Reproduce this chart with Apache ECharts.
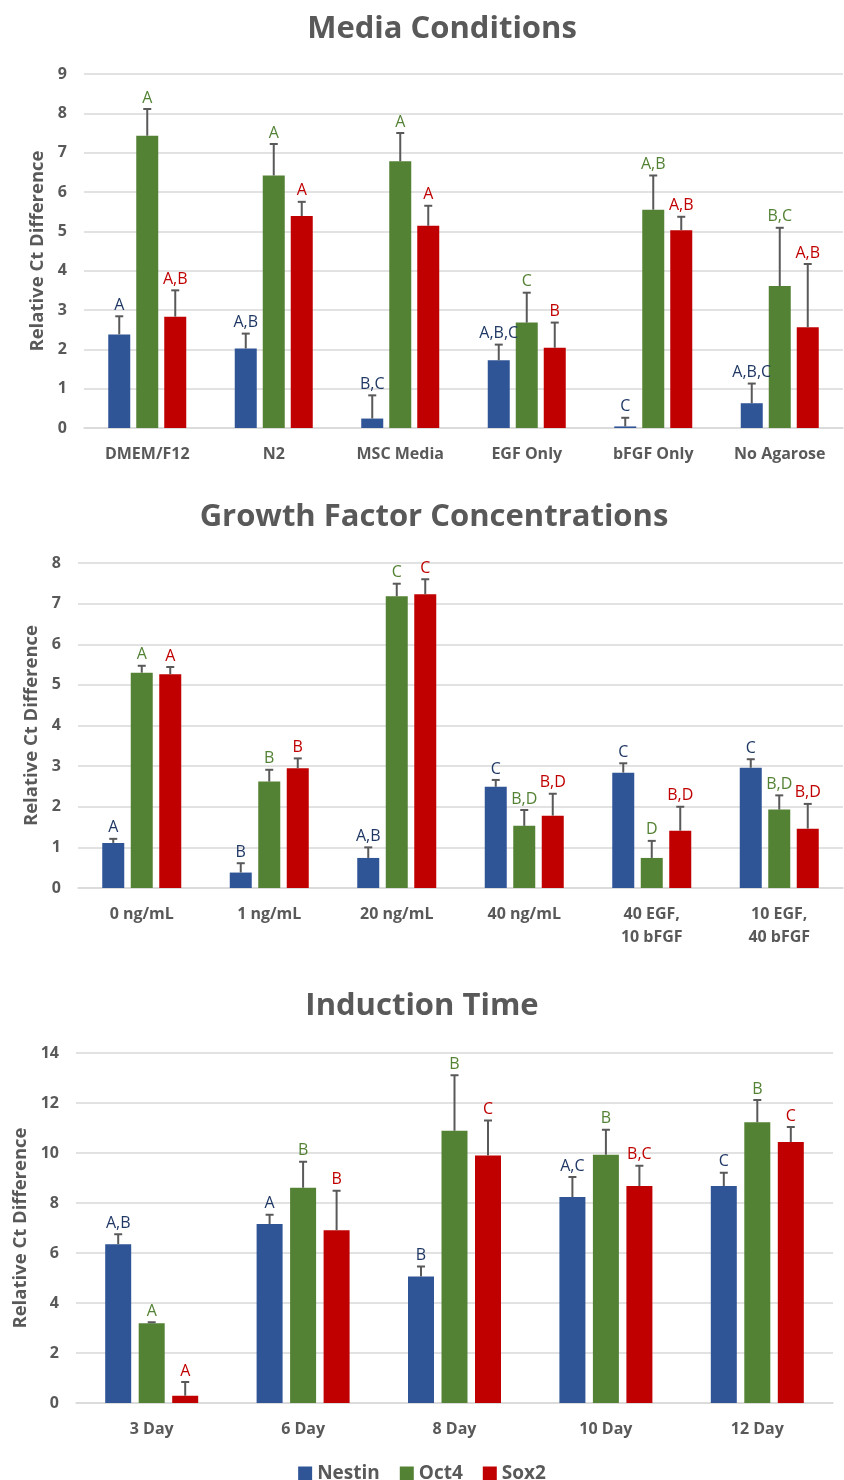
<!DOCTYPE html>
<html>
<head>
<meta charset="utf-8">
<script src="https://cdn.jsdelivr.net/npm/echarts@6/dist/echarts.min.js"></script>
<style>
  html, body { margin: 0; padding: 0; background: #fff; }
  #chart { width: 844px; height: 1480px; }
</style>
</head>
<body>
<div id="chart"></div>
<script>
// ---- Media Conditions ----
const mediaCats = ['DMEM/F12', 'N2', 'MSC Media', 'EGF Only', 'bFGF Only', 'No Agarose'];
const mediaNestin = [2.38, 2.02, 0.24, 1.72, 0.04, 0.63];
const mediaNestinErr = [0.46, 0.38, 0.59, 0.40, 0.22, 0.50];
const mediaOct4 = [7.43, 6.42, 6.78, 2.68, 5.55, 3.61];
const mediaOct4Err = [0.68, 0.80, 0.72, 0.76, 0.87, 1.48];
const mediaSox2 = [2.83, 5.39, 5.14, 2.04, 5.03, 2.56];
const mediaSox2Err = [0.67, 0.36, 0.51, 0.64, 0.34, 1.61];
const mediaNestinSig = ['A', 'A,B', 'B,C', 'A,B,C', 'C', 'A,B,C'];
const mediaOct4Sig = ['A', 'A', 'A', 'C', 'A,B', 'B,C'];
const mediaSox2Sig = ['A,B', 'A', 'A', 'B', 'A,B', 'A,B'];

// ---- Growth Factor Concentrations ----
const gfCats = ['0 ng/mL', '1 ng/mL', '20 ng/mL', '40 ng/mL', '40 EGF,\n10 bFGF', '10 EGF,\n40 bFGF'];
const gfNestin = [1.11, 0.38, 0.74, 2.49, 2.84, 2.96];
const gfNestinErr = [0.10, 0.23, 0.26, 0.17, 0.23, 0.21];
const gfOct4 = [5.30, 2.62, 7.18, 1.53, 0.74, 1.93];
const gfOct4Err = [0.17, 0.29, 0.31, 0.39, 0.42, 0.35];
const gfSox2 = [5.26, 2.95, 7.23, 1.78, 1.41, 1.46];
const gfSox2Err = [0.18, 0.24, 0.37, 0.54, 0.59, 0.61];
const gfNestinSig = ['A', 'B', 'A,B', 'C', 'C', 'C'];
const gfOct4Sig = ['A', 'B', 'C', 'B,D', 'D', 'B,D'];
const gfSox2Sig = ['A', 'B', 'C', 'B,D', 'B,D', 'B,D'];

// ---- Induction Time ----
const timeCats = ['3 Day', '6 Day', '8 Day', '10 Day', '12 Day'];
const timeNestin = [6.35, 7.16, 5.06, 8.24, 8.68];
const timeNestinErr = [0.40, 0.37, 0.40, 0.80, 0.53];
const timeOct4 = [3.19, 8.61, 10.89, 9.93, 11.23];
const timeOct4Err = [0.04, 1.04, 2.22, 1.00, 0.89];
const timeSox2 = [0.29, 6.91, 9.90, 8.68, 10.44];
const timeSox2Err = [0.55, 1.58, 1.40, 0.81, 0.60];
const timeNestinSig = ['A,B', 'A', 'B', 'A,C', 'C'];
const timeOct4Sig = ['A', 'B', 'B', 'B', 'B'];
const timeSox2Sig = ['A', 'B', 'C', 'B,C', 'C'];

const seriesNames = ['Nestin', 'Oct4', 'Sox2'];
const barColors = ['#2F5597', '#548235', '#C00000'];
const sigColors = ['#1F3864', '#548235', '#C00000'];
const FONT = '"Open Sans", "Liberation Sans", sans-serif';
const GRAY = '#595959';

const panels = [
  { title: 'Media Conditions', titleTop: 9, titleX: 437, cats: mediaCats,
    vals: [mediaNestin, mediaOct4, mediaSox2], errs: [mediaNestinErr, mediaOct4Err, mediaSox2Err],
    sig: [mediaNestinSig, mediaOct4Sig, mediaSox2Sig],
    grid: { left: 84, top: 74, right: 1, height: 354 }, max: 9, interval: 1,
    barWidth: 22, gap: 6, nameGap: 36 },
  { title: 'Growth Factor Concentrations', titleTop: 497, titleX: 429, cats: gfCats,
    vals: [gfNestin, gfOct4, gfSox2], errs: [gfNestinErr, gfOct4Err, gfSox2Err],
    sig: [gfNestinSig, gfOct4Sig, gfSox2Sig],
    grid: { left: 78, top: 563, right: 1, height: 325 }, max: 8, interval: 1,
    barWidth: 22, gap: 6.5, nameGap: 36 },
  { title: 'Induction Time', titleTop: 986, titleX: 417, cats: timeCats,
    vals: [timeNestin, timeOct4, timeSox2], errs: [timeNestinErr, timeOct4Err, timeSox2Err],
    sig: [timeNestinSig, timeOct4Sig, timeSox2Sig],
    grid: { left: 76, top: 1053, right: 11, height: 350 }, max: 14, interval: 2,
    barWidth: 26, gap: 7.5, nameGap: 46 }
];

const option = {
  backgroundColor: '#fff',
  animation: false,
  title: panels.map(p => ({
    text: p.title, left: p.titleX, top: p.titleTop, textAlign: 'center',
    textStyle: { fontFamily: FONT, fontSize: 31, fontWeight: 'bold', color: GRAY }
  })),
  legend: {
    top: 1459, left: 'center', itemWidth: 14, itemHeight: 14, itemGap: 20,
    icon: 'rect', data: seriesNames,
    textStyle: { fontFamily: FONT, fontSize: 19, fontWeight: 'bold', color: GRAY }
  },
  grid: panels.map(p => p.grid),
  xAxis: panels.map((p, i) => ({
    type: 'category', gridIndex: i, data: p.cats,
    axisLine: { lineStyle: { color: '#d9d9d9', width: 1.5 } },
    axisTick: { show: false },
    axisLabel: { fontFamily: FONT, fontSize: 16, fontWeight: 'bold', color: GRAY,
      margin: 15, lineHeight: 23 }
  })),
  yAxis: panels.map((p, i) => ({
    type: 'value', gridIndex: i, min: 0, max: p.max, interval: p.interval,
    name: 'Relative Ct Difference', nameLocation: 'middle', nameGap: p.nameGap,
    nameTextStyle: { fontFamily: FONT, fontSize: 18.5, fontWeight: 'bold', color: GRAY },
    axisLine: { show: false }, axisTick: { show: false },
    splitLine: { lineStyle: { color: '#d9d9d9', width: 1.5 } },
    axisLabel: { fontFamily: FONT, fontSize: 16, fontWeight: 'bold', color: GRAY, margin: 17 }
  })),
  series: []
};

panels.forEach((p, pi) => {
  seriesNames.forEach((name, si) => {
    option.series.push({
      type: 'bar', name: name, xAxisIndex: pi, yAxisIndex: pi,
      data: p.vals[si], barWidth: p.barWidth,
      barGap: (p.gap / p.barWidth * 100) + '%',
      itemStyle: { color: barColors[si] }
    });
  });
  // error bars (upper only) with significance letters
  seriesNames.forEach((name, si) => {
    const offset = (si - 1) * (p.barWidth + p.gap);
    option.series.push({
      type: 'custom', name: name + ' err', xAxisIndex: pi, yAxisIndex: pi,
      silent: true, z: 5,
      data: p.vals[si].map((v, k) => [k, v, p.errs[si][k]]),
      renderItem: (params, api) => {
        const k = api.value(0), v = api.value(1), e = api.value(2);
        const base = api.coord([k, v]);
        const top = api.coord([k, v + e]);
        const x = base[0] + offset;
        const lineStyle = { stroke: '#595959', lineWidth: 2 };
        return {
          type: 'group',
          children: [
            { type: 'line', shape: { x1: x, y1: base[1], x2: x, y2: top[1] }, style: lineStyle },
            { type: 'line', shape: { x1: x - 4, y1: top[1], x2: x + 4, y2: top[1] }, style: lineStyle },
            { type: 'text', style: {
                text: p.sig[si][k], x: x, y: top[1] - 3,
                textAlign: 'center', textVerticalAlign: 'bottom',
                font: '16px ' + FONT, fill: sigColors[si] } }
          ]
        };
      }
    });
  });
});

const chart = echarts.init(document.getElementById('chart'), null, { renderer: 'canvas' });
chart.setOption(option);
</script>
</body>
</html>
